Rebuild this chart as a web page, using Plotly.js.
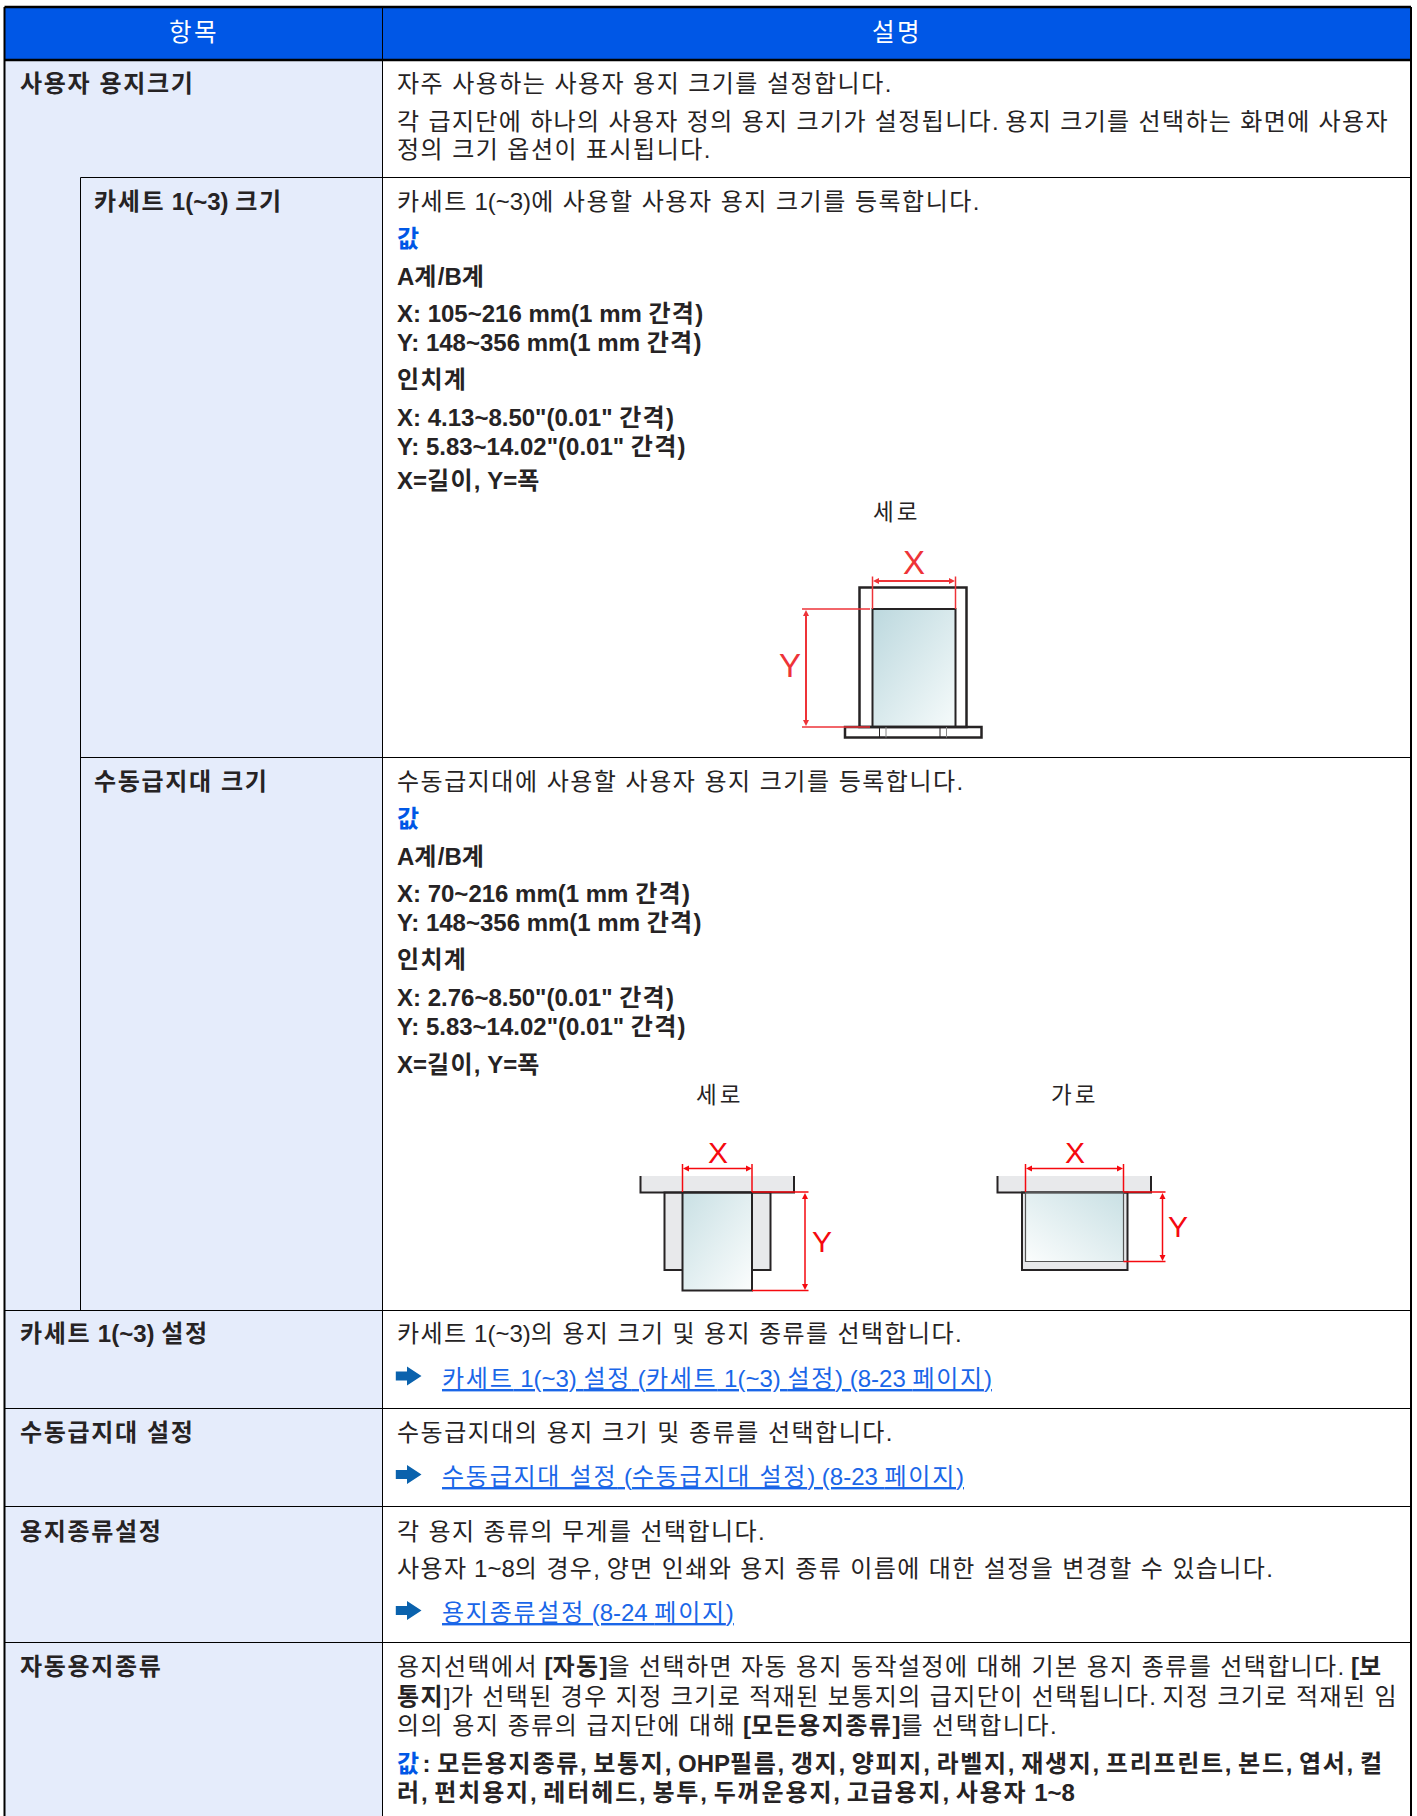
<!DOCTYPE html>
<html><head><meta charset="utf-8">
<script src="https://cdn.plot.ly/plotly-3.0.1.min.js"></script>
<style>html,body{margin:0;padding:0;background:#fff}#c{width:1417px;height:1816px}.annotation-text{text-decoration-thickness:1.6px}</style>
</head><body><div id="c"></div>
<script>
// ---------- content ----------
const headerLabels = ['항목', '설명'];
const rowLabels = ['사용자 용지크기', '카세트 1(~3) 설정', '수동급지대 설정', '용지종류설정', '자동용지종류'];
const subRowLabels = ['카세트 1(~3) 크기', '수동급지대 크기'];
const customSizeLines = [
  '자주 사용하는 사용자 용지 크기를 설정합니다.',
  '각 급지단에 하나의 사용자 정의 용지 크기가 설정됩니다. 용지 크기를 선택하는 화면에 사용자',
  '정의 크기 옵션이 표시됩니다.'
];
const cassetteLines = [
  '카세트 1(~3)에 사용할 사용자 용지 크기를 등록합니다.',
  '<b>값</b>', '<b>A계/B계</b>',
  '<b>X: 105~216 mm(1 mm 간격)</b>', '<b>Y: 148~356 mm(1 mm 간격)</b>',
  '<b>인치계</b>',
  '<b>X: 4.13~8.50"(0.01" 간격)</b>', '<b>Y: 5.83~14.02"(0.01" 간격)</b>',
  '<b>X=길이, Y=폭</b>'
];
const manualLines = [
  '수동급지대에 사용할 사용자 용지 크기를 등록합니다.',
  '<b>값</b>', '<b>A계/B계</b>',
  '<b>X: 70~216 mm(1 mm 간격)</b>', '<b>Y: 148~356 mm(1 mm 간격)</b>',
  '<b>인치계</b>',
  '<b>X: 2.76~8.50"(0.01" 간격)</b>', '<b>Y: 5.83~14.02"(0.01" 간격)</b>',
  '<b>X=길이, Y=폭</b>'
];
const orientationLabels = ['세로', '가로'];
const dimensionLabels = ['X', 'Y'];
const cassetteSettingLines = ['카세트 1(~3)의 용지 크기 및 용지 종류를 선택합니다.'];
const cassetteSettingLink = '카세트 1(~3) 설정 (카세트 1(~3) 설정) (8-23 페이지)';
const manualSettingLines = ['수동급지대의 용지 크기 및 종류를 선택합니다.'];
const manualSettingLink = '수동급지대 설정 (수동급지대 설정) (8-23 페이지)';
const paperTypeLines = [
  '각 용지 종류의 무게를 선택합니다.',
  '사용자 1~8의 경우, 양면 인쇄와 용지 종류 이름에 대한 설정을 변경할 수 있습니다.'
];
const paperTypeLink = '용지종류설정 (8-24 페이지)';
const autoTypeLines = [
  '용지선택에서 <b>[자동]</b>을 선택하면 자동 용지 동작설정에 대해 기본 용지 종류를 선택합니다. <b>[보</b>',
  '<b>통지</b>]가 선택된 경우 지정 크기로 적재된 보통지의 급지단이 선택됩니다. 지정 크기로 적재된 임',
  '의의 용지 종류의 급지단에 대해 <b>[모든용지종류]</b>를 선택합니다.'
];
const autoValueLines = [
  '<b>: 모든용지종류, 보통지, OHP필름, 갱지, 양피지, 라벨지, 재생지, 프리프린트, 본드, 엽서, 컬</b>',
  '<b>러, 펀치용지, 레터헤드, 봉투, 두꺼운용지, 고급용지, 사용자 1~8</b>'
];
const valueWord = '값';

// ---------- page geometry ----------
const W = 1417, H = 1816;
const L = 4.5, R = 1411, C1 = 382.5, C0 = 80.5;
const HEAD_TOP = 7, HEAD_BOT = 60;
const ROW_LINES = [1310.5, 1408.5, 1506.5, 1642.5];
const SUB_LINES = [177.5, 757.5];
const COL_L = 18.8, COL_S = 93, COL_R = 396, COL_LINK = 440.5;
const INK = '#262324', BLUE = '#0057e6', PALE = '#e5ecfb', LINK = '#1a66e8', RED1 = '#ee3338', RED2 = '#f5090f';
const FONT = '"Liberation Sans","Noto Sans CJK KR",sans-serif';
const LS = 1.45, LS_LABEL = 1.65, LS_LINK = 1.75;

function hang(t, ls) {
  return t.replace(/[가-힣]+(?:\s+[가-힣]+)*/g, m =>
    `<span style="letter-spacing:${ls === undefined ? LS : ls}px">${m}</span>`);
}
const annotations = [], shapes = [], images = [];
function put(t, x, y, o = {}) {
  annotations.push({
    text: o.raw ? t : hang(t, o.ls), x, y, xref: 'x', yref: 'y', showarrow: false,
    xanchor: o.anchor || 'left', yanchor: 'middle', align: 'left', borderpad: 0,
    font: Object.assign({family: FONT, size: o.size || 24, color: o.color || INK}, o.under ? {lineposition: 'under'} : {})
  });
}
function rect(x0, y0, x1, y1, o = {}) {
  shapes.push({type: 'rect', xref: 'x', yref: 'y', x0, y0, x1, y1, layer: o.layer || 'above',
    fillcolor: o.fill || 'rgba(0,0,0,0)', line: {color: o.color || INK, width: o.width === undefined ? 2 : o.width}});
}
function seg(x0, y0, x1, y1, color, width, layer) {
  shapes.push({type: 'line', xref: 'x', yref: 'y', x0, y0, x1, y1, layer: layer || 'above', line: {color: color || INK, width: width || 1}});
}
function poly(pts, fill, layer) {
  shapes.push({type: 'path', xref: 'x', yref: 'y', layer: layer || 'above', fillcolor: fill, line: {width: 0},
    path: 'M' + pts.map(p => p.join(',')).join('L') + 'Z'});
}
function gradient(x0, y0, x1, y1, c1, c2, flip) {
  const g = flip ? 'x1="1" y1="0" x2="0" y2="1"' : 'x1="0" y1="0" x2="1" y2="1"';
  const svg = `<svg xmlns="http://www.w3.org/2000/svg" width="100" height="100" preserveAspectRatio="none"><defs><linearGradient id="g" ${g}><stop offset="0" stop-color="${c1}"/><stop offset="1" stop-color="${c2}"/></linearGradient></defs><rect width="100" height="100" fill="url(#g)"/></svg>`;
  images.push({source: 'data:image/svg+xml;base64,' + btoa(svg), xref: 'x', yref: 'y', x: x0, y: y0,
    sizex: x1 - x0, sizey: y1 - y0, xanchor: 'left', yanchor: 'top', sizing: 'stretch', layer: 'above'});
}
function arrowH(x0, x1, y, c, w) {
  seg(x0 + 3, y, x1 - 3, y, c, w);
  poly([[x0, y], [x0 + 6, y - 3], [x0 + 6, y + 3]], c);
  poly([[x1, y], [x1 - 6, y - 3], [x1 - 6, y + 3]], c);
}
function arrowV(x, y0, y1, c, w) {
  seg(x, y0 + 3, x, y1 - 3, c, w);
  poly([[x, y0], [x - 3, y0 + 6], [x + 3, y0 + 6]], c);
  poly([[x, y1], [x - 3, y1 - 6], [x + 3, y1 - 6]], c);
}
function linkArrow(cy) {
  poly([[395.8, cy - 4.5], [407, cy - 4.5], [407, cy - 9.5], [421.5, cy], [407, cy + 9.5], [407, cy + 4.5], [395.8, cy + 4.5]], '#0a62ad');
}

// ---------- table frame ----------
rect(L, HEAD_BOT, C1, H + 2, {fill: PALE, width: 0, layer: 'below'});
rect(L, HEAD_TOP, R, HEAD_BOT, {fill: BLUE, width: 0, layer: 'below'});
seg(L, HEAD_TOP, R, HEAD_TOP, '#000', 2.5);
seg(L, HEAD_BOT, R, HEAD_BOT, '#000', 2.5);
seg(L, HEAD_TOP, L, H + 2, '#000', 2);
seg(R, HEAD_TOP, R, H + 2, '#000', 2);
seg(C1, HEAD_TOP, C1, H + 2, '#000', 1);
seg(C0, SUB_LINES[0], C0, ROW_LINES[0], '#000', 1);
SUB_LINES.forEach(y => seg(C0, y, R, y, '#000', 1));
ROW_LINES.forEach(y => seg(L, y, R, y, '#000', 1));

put(headerLabels[0], 194, 32, {anchor: 'center', color: '#fff', size: 24.5, ls: 2.5});
put(headerLabels[1], 896.5, 32, {anchor: 'center', color: '#fff', size: 24.5, ls: 2.5});

// ---------- left column ----------
const rowLabelY = [83.5, 1333.5, 1432.5, 1531, 1666.5];
rowLabels.forEach((t, i) => put(`<b>${t}</b>`, COL_L, rowLabelY[i], {ls: LS_LABEL}));
const subLabelY = [201.5, 781.5];
subRowLabels.forEach((t, i) => put(`<b>${t}</b>`, COL_S, subLabelY[i], {ls: LS_LABEL}));

// ---------- right column ----------
const customY = [83.5, 121, 149.5];
const customLS = [1.45, 1.35, 1.45];
customSizeLines.forEach((t, i) => put(t, COL_R, customY[i], {ls: customLS[i]}));
const blockA = [0, 37, 74.5, 112, 141, 178, 215.5, 245, 279];
const blockB = [0, 37, 74.5, 112, 141, 178, 215.5, 245, 282.5];
function block(lines, y0, offs) {
  lines.forEach((t, i) => put(t, COL_R, y0 + offs[i], i === 1 ? {color: BLUE} : {ls: i === 0 ? 1.5 : 1.3}));
}
block(cassetteLines, 201.5, blockA);
block(manualLines, 781.5, blockB);
put(cassetteSettingLines[0], COL_R, 1333.5, {ls: 1.4});
linkArrow(1376);
put(cassetteSettingLink, COL_LINK, 1378, {color: LINK, under: true, ls: LS_LINK});
put(manualSettingLines[0], COL_R, 1432.5, {ls: 1.5});
linkArrow(1474.5);
put(manualSettingLink, COL_LINK, 1476.5, {color: LINK, under: true, ls: LS_LINK});
const paperY = [1531, 1568.5];
paperTypeLines.forEach((t, i) => put(t, COL_R, paperY[i], {ls: 1.4}));
linkArrow(1610.5);
put(paperTypeLink, COL_LINK, 1612, {color: LINK, under: true, ls: LS_LINK});
const autoY = [1666.5, 1696.5, 1725.5];
const autoLS = [1.4, 1.4, 1.5];
autoTypeLines.forEach((t, i) => put(t, COL_R, autoY[i], {ls: autoLS[i]}));
put(`<b><span style="fill:${BLUE};letter-spacing:3.5px">${valueWord}</span></b>` + hang(autoValueLines[0], 1.7), COL_R, 1763.5, {raw: true});
put(autoValueLines[1], COL_R, 1792.5, {ls: 1.85});

// ---------- paper diagrams ----------
const G = '#e8e9eb';
// cassette, portrait
put(orientationLabels[0], 896.5, 512, {anchor: 'center', size: 22.5, ls: 3});
gradient(872.5, 609, 955.5, 727, '#bcd8de', '#f6fbfb');
rect(859.5, 587.5, 966.5, 727, {width: 2.5});
rect(872.5, 609, 955.5, 727, {width: 2});
rect(845, 727, 981.5, 737.5, {width: 2.5});
[879.5, 886, 940, 946.5].forEach((x, i) => seg(x, 727, x, 737.5, i % 2 ? '#888' : INK, 1));
seg(872.5, 576.5, 872.5, 609, RED1, 1.5);
seg(955.5, 576.5, 955.5, 609, RED1, 1.5);
arrowH(873, 955, 581, RED1, 2);
seg(802, 609, 870, 609, RED1, 1.5);
seg(802, 727, 870, 727, RED1, 1.5);
arrowV(806, 610, 726, RED1, 2);
put(dimensionLabels[0], 914, 562, {anchor: 'center', size: 33, color: RED1, raw: true});
put(dimensionLabels[1], 790, 665.5, {anchor: 'center', size: 33, color: RED1, raw: true});

// manual tray, portrait
put(orientationLabels[0], 719.5, 1095, {anchor: 'center', size: 22.5, ls: 3});
rect(640.5, 1176, 794, 1192.5, {fill: G, width: 0, layer: 'below'});
rect(664.5, 1192.5, 770.5, 1270, {fill: G, width: 2, layer: 'below'});
gradient(682.5, 1192.5, 752, 1290.5, '#c9e0e4', '#fbfdfd');
shapes.push({type: 'path', xref: 'x', yref: 'y', layer: 'above', line: {color: INK, width: 2}, path: 'M640.5,1176V1192.5H794V1176'});
rect(682.5, 1192.5, 752, 1290.5, {width: 2});
seg(682.5, 1164, 682.5, 1192, RED2, 1.5);
seg(752, 1164, 752, 1192, RED2, 1.5);
arrowH(683, 752, 1168.5, RED2, 1.5);
seg(752, 1192, 808.5, 1192, RED2, 1.5);
seg(752, 1290.5, 808.5, 1290.5, RED2, 1.5);
arrowV(805, 1193, 1290, RED2, 1.5);
put(dimensionLabels[0], 717.5, 1152.5, {anchor: 'center', size: 30, color: RED2, raw: true});
put(dimensionLabels[1], 821.5, 1241, {anchor: 'center', size: 30, color: RED2, raw: true});

// manual tray, landscape
put(orientationLabels[1], 1074.5, 1095, {anchor: 'center', size: 22.5, ls: 3});
rect(997.5, 1176, 1151, 1192.5, {fill: G, width: 0, layer: 'below'});
rect(1022, 1192.5, 1127.5, 1270, {fill: G, width: 2, layer: 'below'});
gradient(1025.5, 1192.5, 1123.5, 1261.5, '#c9e0e4', '#fbfdfd', true);
shapes.push({type: 'path', xref: 'x', yref: 'y', layer: 'above', line: {color: INK, width: 2}, path: 'M997.5,1176V1192.5H1151V1176'});
rect(1025.5, 1192.5, 1123.5, 1261.5, {color: '#555', width: 1.2});
seg(1025.5, 1164, 1025.5, 1192, RED2, 1.5);
seg(1123.5, 1164, 1123.5, 1192, RED2, 1.5);
arrowH(1026, 1123, 1168.5, RED2, 1.5);
seg(1123.5, 1192, 1165.5, 1192, RED2, 1.5);
seg(1123.5, 1261.5, 1165.5, 1261.5, RED2, 1.5);
arrowV(1162.5, 1193, 1261, RED2, 1.5);
put(dimensionLabels[0], 1074.5, 1152.5, {anchor: 'center', size: 30, color: RED2, raw: true});
put(dimensionLabels[1], 1178, 1226.5, {anchor: 'center', size: 30, color: RED2, raw: true});

Plotly.newPlot('c', [], {
  width: W, height: H, margin: {l: 0, r: 0, t: 0, b: 0},
  paper_bgcolor: '#fff', plot_bgcolor: '#fff', showlegend: false,
  xaxis: {range: [0, W], visible: false, fixedrange: true},
  yaxis: {range: [H, 0], visible: false, fixedrange: true},
  shapes, annotations, images
}, {staticPlot: true, displayModeBar: false});
</script>
</body></html>
